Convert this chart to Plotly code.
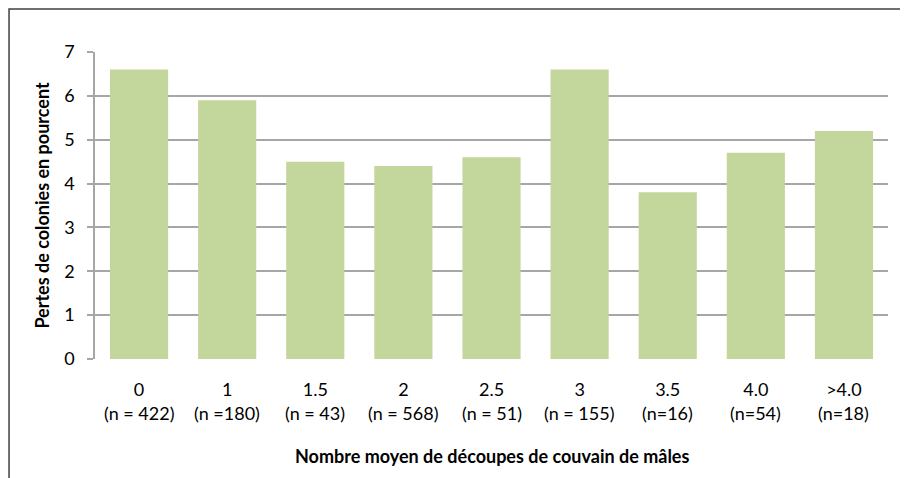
import plotly.graph_objects as go

categories = ["0", "1", "1.5", "2", "2.5", "3", "3.5", "4.0", ">4.0"]
n_labels = ["(n = 422)", "(n =180)", "(n = 43)", "(n = 568)", "(n = 51)",
            "(n = 155)", "(n=16)", "(n=54)", "(n=18)"]
losses = [6.6, 5.9, 4.5, 4.4, 4.6, 6.6, 3.8, 4.7, 5.2]
y_ticks = [0, 1, 2, 3, 4, 5, 6, 7]

FONT = "Lato"
FS = 18
GRID = "#A6A6A6"

fig = go.Figure()
fig.add_trace(go.Bar(
    x=categories, y=losses,
    marker=dict(color="#C3D69B", line=dict(width=0)),
    hoverinfo="x+y",
))

annotations = []
for i, n in enumerate(n_labels):
    annotations.append(dict(
        x=i, xref="x", y=-0.176, yref="paper", text=n, showarrow=False,
        xanchor="center", yanchor="middle",
        font=dict(family=FONT, size=FS, color="#000000"),
    ))
annotations.append(dict(
    x=0.5, xref="paper", y=-0.316, yref="paper",
    text="<b>Nombre moyen de découpes de couvain de mâles</b>",
    showarrow=False, xanchor="center", yanchor="middle",
    font=dict(family=FONT, size=FS, color="#000000"),
))

fig.update_layout(
    width=908, height=478,
    margin=dict(l=87, r=28, t=44, b=127),
    paper_bgcolor="white", plot_bgcolor="white",
    bargap=0.34,
    showlegend=False,
    font=dict(family=FONT, size=FS, color="#000000"),
    xaxis=dict(
        type="category", categoryorder="array", categoryarray=categories,
        tickmode="array", tickvals=categories, ticktext=categories,
        showgrid=False, showline=False, ticks="",
        ticklabelstandoff=18,
        tickfont=dict(family=FONT, size=FS, color="#000000"),
        zeroline=False,
    ),
    yaxis=dict(
        range=[0, 7], tickmode="array", tickvals=y_ticks,
        showgrid=True, gridcolor=GRID, gridwidth=1.5,
        showline=True, linecolor=GRID, linewidth=1.5,
        ticks="outside", ticklen=6, tickcolor=GRID, tickwidth=1.5,
        ticklabelstandoff=9,
        zeroline=False,
        tickfont=dict(family=FONT, size=FS, color="#000000"),
        title=dict(text="<b>Pertes de colonies en pourcent</b>",
                   font=dict(family=FONT, size=FS, color="#000000"),
                   standoff=10),
    ),
    annotations=annotations,
    shapes=[
        dict(type="rect", xref="paper", yref="paper",
             x0=-0.1084, x1=1.05, y0=-0.40, y1=1.140,
             line=dict(color="#404040", width=1.5), layer="below"),
    ],
)

fig.write_html("out.html")
